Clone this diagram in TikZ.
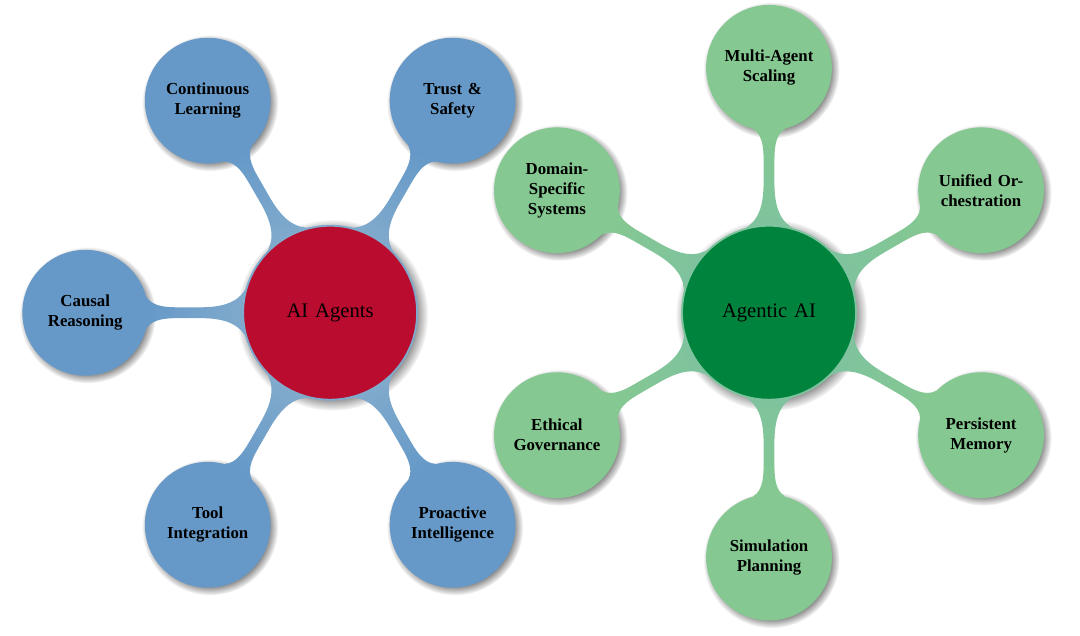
\documentclass[tikz,border=0pt]{standalone}
\usepackage{fontspec}
\setmainfont{Liberation Serif}
\usetikzlibrary{mindmap,shadows}
\usepackage{xcolor}
\definecolor{agentred}{RGB}{185,12,47}
\definecolor{agentblue}{RGB}{102,153,200}
\definecolor{agentbar}{RGB}{128,170,204}
\definecolor{agenticgreen}{RGB}{0,132,61}
\definecolor{agenticleaf}{RGB}{133,200,145}
\definecolor{agenticbar}{RGB}{127,195,158}
\newcommand{\leafsize}{2.85cm}
\tikzset{
  hub/.style={concept, minimum size=4cm, text width=3.5cm,
    font=\fontsize{13.5}{16}\selectfont, circular drop shadow},
  leaf/.style={concept, minimum size=\leafsize, text width=62pt,
    font=\fontsize{11}{13}\bfseries\selectfont, circular drop shadow},
}

\begin{document}
\begin{tikzpicture}[mindmap, text=black,
    level 1 concept/.append style={level distance=5.63cm}]
  \useasboundingbox (0,0) rectangle (24.83,14.62);
  % AI Agents
  \path[concept color=agentbar]
    node (agents) [hub, fill=agentred] at (7.59,7.43) {AI Agents}
    child[grow=120, concept color=agentblue] {node (learning) [leaf] {Continuous Learning}}
    child[grow=60, concept color=agentblue] {node (trust) [leaf] {Trust \& Safety}}
    child[grow=180, concept color=agentblue] {node (causal) [leaf] {Causal Reasoning}}
    child[grow=240, concept color=agentblue] {node (tool) [leaf] {Tool Integration}}
    child[grow=300, concept color=agentblue] {node (proactive) [leaf] {Proactive Intelligence}};
  % Agentic AI
  \path[concept color=agenticbar]
    node (agentic) [hub, fill=agenticgreen] at (17.68,7.43) {Agentic AI}
    child[grow=90, concept color=agenticleaf] {node (scaling) [leaf] {Multi-Agent Scaling}}
    child[grow=30, concept color=agenticleaf] {node (orchestration) [leaf] {Unified Orchestration}}
    child[grow=-30, concept color=agenticleaf] {node (memory) [leaf] {Persistent Memory}}
    child[grow=270, concept color=agenticleaf] {node (simulation) [leaf] {Simulation Planning}}
    child[grow=210, concept color=agenticleaf] {node (governance) [leaf] {Ethical Governance}}
    child[grow=150, concept color=agenticleaf] {node (domain) [leaf] {Domain-Specific Systems}};
\end{tikzpicture}
\end{document}
